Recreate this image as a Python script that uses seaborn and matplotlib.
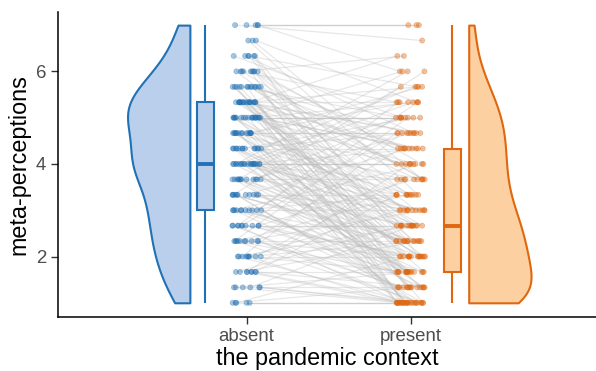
import numpy as np
import pandas as pd
import matplotlib
matplotlib.use("Agg")
import matplotlib.pyplot as plt
import seaborn as sns

# sum of the three meta-perception items (1-7 each), one entry per participant,
# same participant order in both lists
absent_sum = [
    3, 3, 3, 3, 3, 4, 4, 4, 4, 4, 4, 5, 5, 5, 5, 5, 5, 5, 5, 6,
    6, 6, 6, 6, 6, 6, 6, 6, 7, 7, 7, 7, 7, 7, 7, 7, 7, 7, 8, 8,
    8, 8, 8, 8, 8, 8, 8, 8, 9, 9, 9, 9, 9, 9, 9, 9, 9, 9, 9, 10,
    10, 10, 10, 10, 10, 10, 10, 10, 10, 10, 11, 11, 11, 11, 11, 11, 11, 11, 11, 11,
    11, 11, 12, 12, 12, 12, 12, 12, 12, 12, 12, 12, 12, 12, 12, 12, 12, 12, 12, 12,
    12, 13, 13, 13, 13, 13, 13, 13, 13, 13, 13, 13, 13, 13, 14, 14, 14, 14, 14, 14,
    14, 14, 14, 14, 14, 14, 14, 14, 15, 15, 15, 15, 15, 15, 15, 15, 15, 15, 15, 15,
    15, 15, 15, 15, 15, 15, 16, 16, 16, 16, 16, 16, 16, 16, 16, 16, 16, 16, 16, 16,
    16, 16, 16, 16, 17, 17, 17, 17, 17, 17, 17, 17, 17, 17, 17, 17, 17, 18, 18, 18,
    18, 18, 18, 18, 18, 18, 19, 19, 19, 19, 19, 19, 20, 20, 20, 21, 21, 21, 21, 21,
]
present_sum = [
    3, 3, 3, 4, 6, 3, 3, 5, 3, 8, 4, 3, 3, 7, 8, 10, 5, 12, 4, 3,
    6, 3, 9, 5, 14, 7, 8, 11, 4, 3, 7, 6, 15, 3, 9, 5, 13, 10, 6, 16,
    4, 3, 8, 6, 11, 5, 14, 8, 5, 3, 9, 4, 12, 7, 16, 5, 6, 10, 4, 3,
    7, 5, 13, 4, 9, 6, 18, 8, 10, 7, 15, 7, 4, 11, 3, 14, 6, 9, 17, 5,
    8, 4, 12, 5, 15, 12, 3, 7, 10, 5, 16, 8, 6, 13, 4, 9, 12, 5, 18, 7,
    11, 6, 13, 3, 10, 8, 14, 5, 17, 9, 7, 15, 4, 11, 16, 6, 10, 8, 14, 3,
    14, 6, 3, 12, 9, 17, 5, 11, 8, 15, 4, 15, 9, 3, 13, 7, 16, 6, 10, 12,
    4, 18, 8, 13, 5, 15, 3, 16, 7, 12, 9, 14, 6, 10, 17, 13, 8, 19, 7, 11,
    13, 5, 3, 14, 9, 3, 6, 12, 4, 15, 11, 8, 3, 7, 13, 14, 5, 10, 16, 3,
    11, 7, 19, 9, 12, 13, 4, 17, 6, 14, 8, 15, 10, 16, 11, 21, 21, 18, 20, 21,
]
n_items = 3

contexts = ["absent", "present"]
fill_colors = {"absent": "#B9CFEC", "present": "#FDD0A2"}
edge_colors = {"absent": "#2171B5", "present": "#E0670F"}

# build long table
n = len(absent_sum)
df = pd.DataFrame({
    "id": np.tile(np.arange(n), 2),
    "context": np.repeat(contexts, n),
    "score": np.concatenate([absent_sum, present_sum]) / n_items,
})
df["base"] = df["context"].map({"absent": 0.0, "present": 1.0})
rng = np.random.default_rng(11)
df["xj"] = df["base"] + rng.uniform(-0.09, 0.09, len(df))
# split violins get drawn half a width away from their position
df["vpos"] = df["base"] + df["context"].map({"absent": -0.536, "present": 0.544})
df["bpos"] = df["base"] + df["context"].map({"absent": -0.251, "present": 0.253})

plt.rcParams["font.family"] = ["Liberation Sans", "DejaVu Sans"]

fig = plt.figure(figsize=(5.96, 3.71), dpi=100)
ax = fig.add_axes([0.0973, 0.1464, 0.9027, 0.8221])

# paired lines
sns.lineplot(data=df, x="xj", y="score", units="id", estimator=None,
             color="#BDBDBD", alpha=0.35, linewidth=0.9, sort=False, ax=ax)

# jittered points
sns.scatterplot(data=df, x="xj", y="score", hue="context", palette=edge_colors,
                alpha=0.38, s=13, edgecolor="face", linewidth=0.6,
                legend=False, ax=ax, zorder=3)

for c in contexts:
    sub = df[df["context"] == c]
    sns.violinplot(data=sub, x="vpos", y="score", hue="context", hue_order=contexts,
                   palette=fill_colors, split=True, native_scale=True, inner=None,
                   cut=0, width=0.38, bw_adjust=0.85, saturation=1,
                   linecolor=edge_colors[c], linewidth=1.5, legend=False, ax=ax)
    sns.boxplot(data=sub, x="bpos", y="score", native_scale=True, width=0.104,
                color=fill_colors[c], saturation=1, linecolor=edge_colors[c],
                linewidth=1.5, whis=(0, 100), showfliers=False,
                capprops={"visible": False}, medianprops={"linewidth": 2.8}, ax=ax)

ax.set_xlim(-1.15, 2.13)
ax.set_ylim(0.70, 7.29)
ax.set_xticks([0, 1], contexts)
ax.set_yticks([2, 4, 6])
ax.set_xlabel("the pandemic context", fontsize=16.8, color="black", labelpad=1)
ax.set_ylabel("meta-perceptions", fontsize=16.8, color="black")
ax.tick_params(length=5, width=1, color="#333333", labelcolor="#4D4D4D", labelsize=13.4)
for side in ["top", "right"]:
    ax.spines[side].set_visible(False)
for side in ["left", "bottom"]:
    ax.spines[side].set_linewidth(1.1)
    ax.spines[side].set_color("black")

fig.savefig("out.png", dpi=100)
